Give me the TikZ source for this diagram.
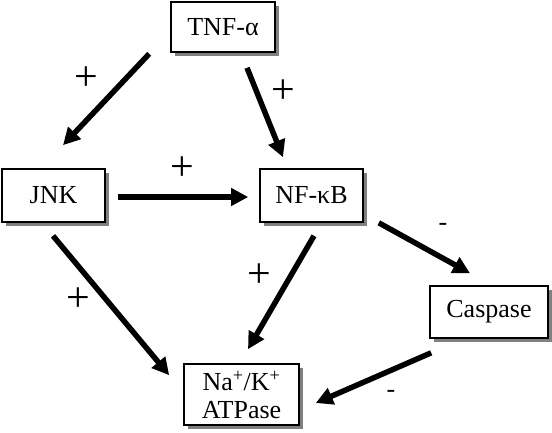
\documentclass[tikz,border=0pt]{standalone}
\usepackage{fontspec}
\setmainfont{Liberation Serif}
\usetikzlibrary{calc,shadows,arrows.meta}
\begin{document}
\begin{tikzpicture}[x=1pt,y=-1pt,
  box/.style={draw=black, line width=1.6pt, fill=white, inner sep=0pt,
    font=\fontsize{26}{28}\selectfont, align=center,
    drop shadow={shadow xshift=3.5pt, shadow yshift=-3.5pt, fill=black!50, opacity=1}},
  arr/.style={line width=5.5pt, -{Triangle[length=17pt,width=17pt]}},
  plus/.style={font=\fontsize{42}{42}\selectfont, inner sep=0pt},
  minus/.style={font=\fontsize{26}{26}\selectfont, inner sep=0pt}]
\useasboundingbox (0,0) rectangle (552,432);
\node[box, minimum width=104pt, minimum height=50pt] (tnf) at (223,27) {TNF-α};
\node[box, minimum width=103pt, minimum height=53pt] (jnk) at (53.5,195.5) {JNK};
\node[box, minimum width=103pt, minimum height=53pt] (nfkb) at (311.5,195.5) {NF-κB};
\node[box, minimum width=118pt, minimum height=52pt] (casp) at (489,312) {Caspase};
\node[box, minimum width=115pt, minimum height=61pt] (nak) at (241.5,394.5) {Na\textsuperscript{+}/K\textsuperscript{+}\\ATPase};
\draw[arr] ($(tnf.south west)+(-21,1)$) -- ($(jnk.north)+(9.5,-23)$);
\draw[arr] ($(tnf.south)+(24,15)$) -- ($(nfkb.north)+(-28.5,-11)$);
\draw[arr] ($(jnk.east)+(12,1.5)$) -- ($(nfkb.west)+(-11,1.5)$);
\draw[arr] ($(jnk.south)+(-0.5,13)$) -- ($(nak.north west)+(-14,12)$);
\draw[arr] ($(nfkb.south)+(2.5,13)$) -- ($(nak.north)+(6.5,-14)$);
\draw[arr] ($(nfkb.south east)+(15,0)$) -- ($(casp.north)+(-19,-12)$);
\draw[arr] ($(casp.south west)+(2,14)$) -- ($(nak.east)+(16,8.5)$);
\node[plus] (p1) at (86,79) {+};
\node[plus] (p2) at (283,92) {+};
\node[plus] (p3) at (182,169) {+};
\node[plus] (p4) at (78,300) {+};
\node[plus] (p5) at (259,276) {+};
\node[minus] (m1) at (443,227) {-};
\node[minus] (m2) at (391,394) {-};
\end{tikzpicture}
\end{document}
